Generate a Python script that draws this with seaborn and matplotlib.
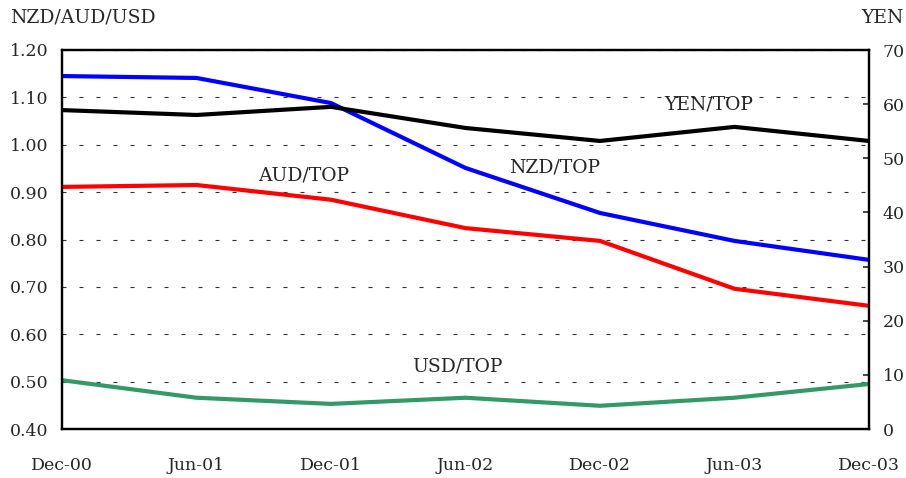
import pandas as pd
import matplotlib
matplotlib.use("Agg")
import matplotlib.pyplot as plt
import seaborn as sns

# data
periods = ["Dec-00", "Jun-01", "Dec-01", "Jun-02", "Dec-02", "Jun-03", "Dec-03"]
nzd_top = [1.145, 1.141, 1.088, 0.951, 0.856, 0.797, 0.757]
aud_top = [0.911, 0.915, 0.884, 0.824, 0.797, 0.696, 0.660]
usd_top = [0.503, 0.466, 0.453, 0.466, 0.449, 0.466, 0.495]
yen_top = [58.9, 58.0, 59.5, 55.6, 53.2, 55.8, 53.2]

sns.set_style("white")
plt.rcParams["font.family"] = ["DejaVu Serif"]

df = pd.DataFrame({"t": range(len(periods)), "NZD": nzd_top, "AUD": aud_top,
                   "USD": usd_top, "YEN": yen_top})

fig = plt.figure(figsize=(9.06, 4.78), dpi=100)
ax = fig.add_axes([62 / 906, 1 - 429 / 478, (869 - 62) / 906, (429 - 50) / 478])
ax2 = ax.twinx()

lw = 3.0
sns.lineplot(data=df, x="t", y="NZD", color="#0000FF", lw=lw, ax=ax)
sns.lineplot(data=df, x="t", y="AUD", color="#FF0000", lw=lw, ax=ax)
sns.lineplot(data=df, x="t", y="USD", color="#339966", lw=lw, ax=ax)
sns.lineplot(data=df, x="t", y="YEN", color="black", lw=lw, ax=ax2)

ax.set_xlim(0, len(periods) - 1)
ax.set_ylim(0.40, 1.20)
ax2.set_ylim(0, 70)
ax.set_yticks([0.4 + 0.1 * i for i in range(9)])
ax.set_yticklabels([f"{0.4 + 0.1 * i:.2f}" for i in range(9)])
ax2.set_yticks(range(0, 71, 10))
ax.set_xticks(range(len(periods)))
ax.set_xticklabels(periods)

ax.set_xlabel("")
ax.set_ylabel("")
ax2.set_ylabel("")

ax.yaxis.grid(True, linestyle=(0, (3.6, 11.7)), color="#333333", linewidth=0.8)
ax.set_axisbelow(True)

ax.tick_params(axis="x", length=0, pad=20, labelsize=12.5)
ax.tick_params(axis="y", length=0, pad=10, labelsize=12.5)
ax2.tick_params(axis="y", direction="in", length=4, width=1.2, pad=10, labelsize=12.5)

for a in (ax, ax2):
    for s in a.spines.values():
        s.set_color("black")
        s.set_linewidth(1.6)
        s.set_visible(True)

txt = dict(fontsize=13.5, ha="center", va="center")
ax.text(4.81, 1.086, "YEN/TOP", **txt)
ax.text(3.66, 0.953, "NZD/TOP", **txt)
ax.text(1.80, 0.936, "AUD/TOP", **txt)
ax.text(2.94, 0.531, "USD/TOP", **txt)

fig.text(10 / 906, 1 - 18 / 478, "NZD/AUD/USD", fontsize=13.5, ha="left", va="center")
fig.text(904 / 906, 1 - 18 / 478, "YEN", fontsize=13.5, ha="right", va="center")

fig.savefig("out.png", dpi=100)
